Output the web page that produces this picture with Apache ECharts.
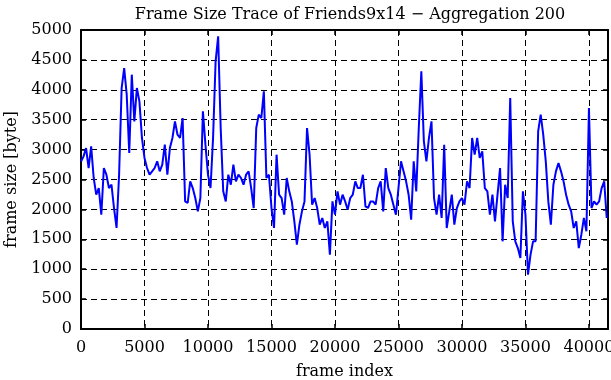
<!DOCTYPE html>
<html>
<head>
<meta charset="utf-8">
<script src="https://cdn.jsdelivr.net/npm/echarts@6/dist/echarts.min.js"></script>
<style>
  html, body { margin: 0; padding: 0; background: #fff; }
  #chart { width: 611px; height: 380px; }
</style>
</head>
<body>
<div id="chart"></div>
<script>
// frame size trace, one value per 200 aggregated frames
var aggregation = 200;
var frameSizes = [
  2800, 2887, 3026, 2692, 3054, 2525, 2246, 2357, 1912, 2692,
  2580, 2357, 2413, 2023, 1689, 2580, 4030, 4364, 3918, 2943,
  4253, 3472, 4030, 3807, 3194, 2860, 2692, 2580, 2636, 2692,
  2804, 2636, 2748, 3082, 2580, 3026, 3194, 3472, 3249, 3194,
  3528, 2134, 2107, 2469, 2357, 2190, 1967, 2190, 3640, 3082,
  2580, 2357, 3194, 4476, 4894, 3361, 2302, 2134, 2580, 2413,
  2748, 2469, 2580, 2525, 2413, 2580, 2636, 2357, 2023, 3361,
  3584, 3528, 3974, 2525, 2580, 2023, 1689, 2915, 2246, 2190,
  1912, 2525, 2302, 2134, 1800, 1410, 1744, 1967, 2134, 3361,
  2915, 2079, 2190, 2023, 1744, 1856, 1689, 1800, 1243, 2134,
  1912, 2302, 2079, 2246, 2134, 1995, 2190, 2246, 2469, 2357,
  2357, 2580, 2051, 2023, 2134, 2134, 2079, 2357, 2469, 1967,
  2692, 2357, 2246, 2079, 1912, 2357, 2804, 2636, 2469, 2246,
  1828, 2804, 2302, 3361, 4308, 3138, 2804, 3194, 3472, 2190,
  1912, 2246, 1856, 3082, 1689, 1967, 2246, 1744, 2023, 2134,
  2190, 2079, 2469, 2357, 3194, 2915, 3194, 2860, 2971, 2357,
  2302, 1912, 2246, 1800, 2246, 2692, 1466, 2413, 2190, 3862,
  1800, 1466, 1354, 1187, 2302, 1912, 908, 1243, 1466, 1466,
  3305, 3584, 3249, 2804, 2134, 1744, 2413, 2636, 2776, 2636,
  2469, 2246, 2079, 1967, 1689, 1800, 1354, 1577, 1856, 1633,
  3695, 2023, 2134, 2079, 2134, 2357, 2469, 1856
];
var xMax = 41500;
var xStep = 5000;
var yMax = 5000;
var yStep = 500;

var font = 'DejaVu Serif';
var points = frameSizes.map(function (v, i) { return [i * aggregation, v]; });
var plain = function (v) { return String(v); };

var myChart = echarts.init(document.getElementById('chart'));

var borderLine = { show: true, onZero: false, lineStyle: { color: '#000', width: 2 } };
var inTick = { show: true, inside: true, length: 5, lineStyle: { color: '#000', width: 1.5 } };
var dashGrid = { show: true, lineStyle: { color: '#000', width: 1, type: [6, 4] } };

option = {
  animation: false,
  backgroundColor: '#fff',
  title: {
    text: 'Frame Size Trace of Friends9x14 \u2212 Aggregation 200',
    left: 345,
    textAlign: 'center',
    top: 2,
    textStyle: { fontFamily: font, fontSize: 16, fontWeight: 'normal', color: '#000' }
  },
  grid: { left: 81, right: 3, top: 30, bottom: 51, outerBoundsMode: 'none', containLabel: false },
  xAxis: [
    {
      type: 'value', min: 0, max: xMax, interval: xStep, position: 'bottom',
      name: 'frame index', nameLocation: 'middle', nameGap: 35,
      nameTextStyle: { fontFamily: font, fontSize: 16, color: '#000' },
      axisLine: borderLine, axisTick: inTick, splitLine: dashGrid,
      axisLabel: { showMaxLabel: false, formatter: plain, color: '#000', fontFamily: font, fontSize: 16, margin: 11 }
    },
    {
      type: 'value', min: 0, max: xMax, interval: xStep, position: 'top',
      axisLine: borderLine, axisTick: inTick, splitLine: { show: false },
      axisLabel: { show: false }
    }
  ],
  yAxis: [
    {
      type: 'value', min: 0, max: yMax, interval: yStep, position: 'left',
      name: 'frame size [byte]', nameLocation: 'middle', nameGap: 61,
      nameTextStyle: { fontFamily: font, fontSize: 16, color: '#000' },
      axisLine: borderLine, axisTick: inTick, splitLine: dashGrid,
      axisLabel: { formatter: plain, color: '#000', fontFamily: font, fontSize: 16, margin: 9 }
    },
    {
      type: 'value', min: 0, max: yMax, interval: yStep, position: 'right',
      axisLine: borderLine, axisTick: inTick, splitLine: { show: false },
      axisLabel: { show: false }
    }
  ],
  series: [{
    type: 'line',
    xAxisIndex: 0,
    yAxisIndex: 0,
    data: points,
    showSymbol: false,
    symbol: 'none',
    lineStyle: { color: '#0000ff', width: 2 }
  }]
};
myChart.setOption(option);
</script>
</body>
</html>
